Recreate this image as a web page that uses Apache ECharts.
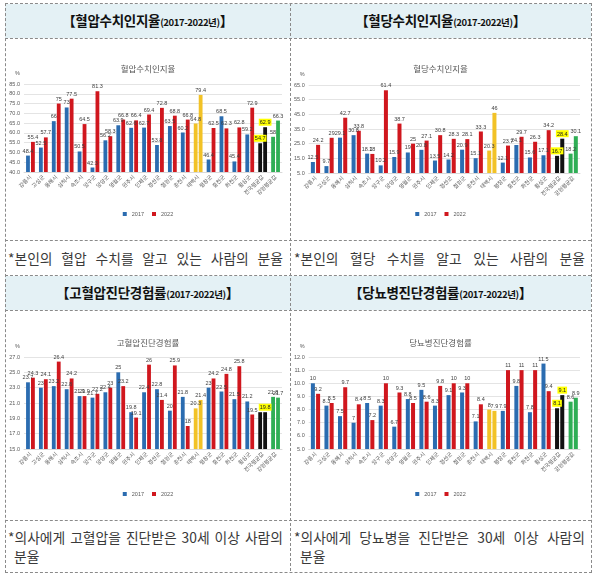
<!DOCTYPE html>
<html>
<head>
<meta charset="utf-8">
<script src="https://cdn.jsdelivr.net/npm/echarts@6/dist/echarts.min.js"></script>
<style>
  body { margin: 0; background: #fff; font-family: 'Noto Sans CJK KR', sans-serif; }
  #page { position: relative; width: 596px; height: 577px; overflow: hidden; }
  .abs { position: absolute; }
  .hbg { background: #e4f1f5; left: 5px; width: 586px; }
  .hl { border-top: 1px dashed #8a8a8a; left: 5px; width: 586px; height: 0; }
  .vl { border-left: 1px dashed #8a8a8a; width: 0; }
  .head { text-align: center; font-weight: bold; font-size: 13.5px; color: #111; letter-spacing: -0.3px; }
  .head small { font-size: 9.5px; letter-spacing: -0.4px; }
  .cap { font-size: 13.8px; color: #3a3a3a; text-align: justify; text-align-last: justify; white-space: nowrap; }
  .cap2 { font-size: 13.8px; color: #3a3a3a; }
  .chart { position: absolute; }
</style>
</head>
<body>
<div id="page">
  <div class="abs hbg" style="top:4px;height:34px"></div>
  <div class="abs hbg" style="top:276px;height:34px"></div>

  <div class="abs" style="left:5px;top:3px;width:585px;height:568px;border:1px dashed #8a8a8a"></div>
  <div class="abs hl" style="top:38px"></div>
  <div class="abs hl" style="top:240px"></div>
  <div class="abs hl" style="top:275px"></div>
  <div class="abs hl" style="top:310px"></div>
  <div class="abs hl" style="top:520px"></div>
  <div class="abs vl" style="left:290px;top:3px;height:568px"></div>

  <div class="abs head" style="left:5px;width:285px;top:10px">【혈압수치인지율<small>(2017-2022년)</small>】</div>
  <div class="abs head" style="left:290px;width:301px;top:10px">【혈당수치인지율<small>(2017-2022년)</small>】</div>
  <div class="abs head" style="left:5px;width:285px;top:282px">【고혈압진단경험률<small>(2017-2022년)</small>】</div>
  <div class="abs head" style="left:290px;width:301px;top:282px">【당뇨병진단경험률<small>(2017-2022년)</small>】</div>

  <div class="abs cap" style="left:8px;width:275px;top:248px">*본인의 혈압 수치를 알고 있는 사람의 분율</div>
  <div class="abs cap" style="left:294px;width:291px;top:248px">*본인의 혈당 수치를 알고 있는 사람의 분율</div>
  <div class="abs cap" style="left:8px;width:275px;top:527px">*의사에게 고혈압을 진단받은 30세 이상 사람의</div>
  <div class="abs cap2" style="left:14px;top:546px">분율</div>
  <div class="abs cap" style="left:294px;width:291px;top:527px">*의사에게 당뇨병을 진단받은 30세 이상 사람의</div>
  <div class="abs cap2" style="left:300px;top:546px">분율</div>

  <div id="c1" class="chart" style="left:6px;top:39px;width:284px;height:200px"></div>
  <div id="c2" class="chart" style="left:291px;top:39px;width:299px;height:200px"></div>
  <div id="c3" class="chart" style="left:6px;top:311px;width:284px;height:208px"></div>
  <div id="c4" class="chart" style="left:291px;top:311px;width:299px;height:208px"></div>
</div>
<script>
var categories = ['강릉시', '고성군', '동해시', '삼척시', '속초시', '양구군', '양양군', '영월군', '원주시', '인제군',
  '정선군', '철원군', '춘천시', '태백시', '평창군', '홍천군', '화천군', '횡성군', '전국평균값', '강원평균값']

// 혈압수치인지율
var bp2017 = [48.4, 52.5, 66, 73.0, 50.5, 42.3, 56.2, 63.9, 62.6, 62.7, 53.8, 63.5, 60.2, 64.8, 46.4, 68.5, 45.4, 59.2, 54.7, 58]
var bp2022 = [55.4, 57.7, 75, 77.5, 64.5, 81.3, 58.3, 66.8, 66.4, 69.4, 72.8, 68.8, 66.8, 79.4, 62.5, 62.3, 62.8, 72.9, 62.9, 66.3]
// 혈당수치인지율
var bs2017 = [12.5, 9.7, 29.1, 30.8, 18.2, 10.2, 15.9, 19, 20.8, 13.5, 14.2, 20.9, 15.1, 20.3, 12.1, 24.1, 15.6, 17.1, 16.7, 18.2]
var bs2022 = [24.2, 29, 42.7, 33.8, 18, 61.4, 38.7, 25, 27.1, 30.8, 28.3, 28.1, 33.3, 46, 23.7, 29.7, 26.3, 34.2, 28.4, 30.1]
// 고혈압진단경험률
var htn2017 = [23.7, 23, 23.2, 22.8, 21.9, 21.7, 22.4, 25, 19.8, 22.4, 22.8, 20, 21.8, 20.3, 23, 22.5, 21.5, 21.2, 19.8, 21.8]
var htn2022 = [24.3, 24.1, 26.4, 24.2, 21.9, 22.2, 23, 23.2, 19.1, 26, 21.4, 25.9, 18, 21.4, 24.2, 24.8, 25.8, 19.5, 19.8, 21.7]
// 당뇨병진단경험률
var dm2017 = [10, 8.3, 7.5, 7, 8.5, 8.3, 6.7, 8.8, 9.5, 8.3, 9.1, 9.3, 7.1, 8, 7.9, 9.8, 7.8, 11.5, 8.1, 8.6]
var dm2022 = [9.2, 8.5, 9.7, 8.4, 7.2, 10, 9.3, 8.5, 8.6, 9.8, 10, 10, 8.4, 7.9, 11, 11, 11, 9.4, 9.1, 8.9]

var BLUE = '#2b6cb0'
var RED = '#d0171e'

function barColor(i, base) {
  if (i === 13) return '#f2c226'
  if (i === 18) return '#111111'
  if (i === 19) return '#2fae55'
  return base
}

function buildData(values, base, hideNational) {
  return values.map(function(v, i) {
    var item = { value: v, itemStyle: { color: barColor(i, base) } }
    if (i === 18) {
      item.label = hideNational ? { show: false } : {
        backgroundColor: '#ffff00', padding: [1, 1, 0, 1], color: '#222'
      }
    }
    return item
  })
}

function makeOption(title, v17, v22, yMin, yMax, step, g, hide17) {
  var lbl = { show: true, position: 'top', distance: 1.5, fontSize: 5.5, color: '#404040', fontFamily: 'Liberation Sans' }
  return {
    animation: false,
    title: {
      text: title, left: 'center', top: g.titleTop,
      textStyle: { fontSize: 8.5, fontWeight: 'normal', color: '#595959', fontFamily: 'Noto Sans CJK KR' }
    },
    legend: {
      top: g.legendTop, left: 'center', itemWidth: 4, itemHeight: 4, itemGap: 8, icon: 'rect',
      textStyle: { fontSize: 5.5, color: '#595959', fontFamily: 'Liberation Sans' }
    },
    grid: { left: g.left, right: g.right, top: g.top, height: g.height },
    xAxis: {
      type: 'category', data: categories,
      axisLine: { lineStyle: { color: '#d9d9d9' } },
      axisTick: { show: false },
      axisLabel: { rotate: 45, interval: 0, fontSize: 5.5, color: '#595959', margin: 4, fontFamily: 'Noto Sans CJK KR' }
    },
    yAxis: {
      type: 'value', min: yMin, max: yMax, interval: step,
      name: '%', nameLocation: 'end', nameGap: 8,
      nameTextStyle: { fontSize: 5.5, color: '#595959', align: 'right', padding: [0, 4, 0, 0] },
      axisLine: { show: false }, axisTick: { show: false },
      axisLabel: { fontSize: 5.5, color: '#595959', margin: 4, fontFamily: 'Liberation Sans',
        formatter: function(v) { return v.toFixed(1) } },
      splitLine: { lineStyle: { color: '#d9d9d9', width: 0.7 } }
    },
    series: [
      { name: '2017', type: 'bar', itemStyle: { color: BLUE }, barCategoryGap: '32%', barGap: '30%',
        label: lbl, data: buildData(v17, BLUE, hide17) },
      { name: '2022', type: 'bar', itemStyle: { color: RED },
        label: lbl, data: buildData(v22, RED, false) }
    ]
  }
}

var top1 = { titleTop: 21, legendTop: 167, left: 18, right: 8, top: 45, height: 88 }
var top2 = { titleTop: 21, legendTop: 167, left: 14, right: 10, top: 46, height: 88 }
var bot1 = { titleTop: 23, legendTop: 175, left: 18, right: 8, top: 46, height: 92 }
var bot2 = { titleTop: 23, legendTop: 175, left: 14, right: 10, top: 46, height: 92 }

echarts.init(document.getElementById('c1')).setOption(makeOption('혈압수치인지율', bp2017, bp2022, 40, 85, 5, top1, false))
echarts.init(document.getElementById('c2')).setOption(makeOption('혈당수치인지율', bs2017, bs2022, 5, 65, 10, top2, false))
echarts.init(document.getElementById('c3')).setOption(makeOption('고혈압진단경험률', htn2017, htn2022, 15, 27, 2, bot1, true))
echarts.init(document.getElementById('c4')).setOption(makeOption('당뇨병진단경험률', dm2017, dm2022, 5, 12, 1, bot2, false))
</script>
</body>
</html>
